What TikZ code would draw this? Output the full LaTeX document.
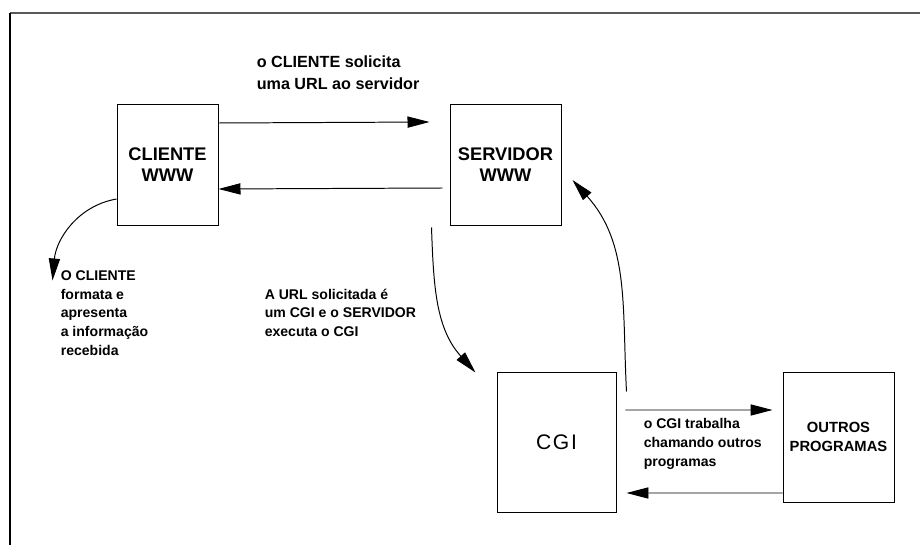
\documentclass[tikz,border=0pt]{standalone}
\usepackage{fontspec}
\setmainfont{Liberation Sans}
\usetikzlibrary{arrows.meta}

\begin{document}
\begin{tikzpicture}
%define
\tikzstyle{box_s} = [rectangle, minimum width=2.525cm, minimum height=3.025cm, align=center, draw=black, line width=0.7pt, inner sep=0pt, font=\fontsize{13}{15}\selectfont\bfseries]
\tikzstyle{box_m} = [rectangle, minimum width=2.775cm, minimum height=3.025cm, align=center, draw=black, line width=0.7pt, inner sep=0pt, font=\fontsize{13}{15}\selectfont\bfseries]
\tikzstyle{box_l} = [rectangle, minimum width=2.975cm, minimum height=3.5cm, align=center, draw=black, line width=0.7pt, inner sep=0pt, font=\fontsize{15}{18}\selectfont\addfontfeature{LetterSpace=8}]
\tikzstyle{box_p} = [rectangle, minimum width=2.775cm, minimum height=3.25cm, align=center, draw=black, line width=0.7pt, inner sep=0pt, font=\fontsize{10.5}{13.5}\selectfont\bfseries]
\tikzstyle{text_top} = [align=left, anchor=north west, inner sep=0pt, font=\fontsize{11.5}{15.6}\selectfont\bfseries]
\tikzstyle{text_note} = [align=left, anchor=north west, inner sep=0pt, font=\fontsize{10}{13.3}\selectfont\bfseries]
\tikzstyle{arrow} = [->, >={Triangle[length=5.5mm, width=2.8mm]}, line width=0.7pt]

\useasboundingbox (-4.1875,-9.5125) rectangle (18.8125,4.1125);
%frame
\draw[black!65, line width=1.2pt](-3.9375,3.7875)--(18.8125,3.7875);
\draw[black, line width=1.2pt](-3.9375,3.7875)--(-3.9375,-9.5125);

\node[box_s](state_Cliente){CLIENTE\\WWW};
\node[box_m, right of = state_Cliente, xshift = 7.45cm](state_Servidor){SERVIDOR\\WWW};
\node[box_l, below of = state_Servidor, xshift = 1.275cm, yshift = -5.9375cm](state_CGI){CGI};
\node[box_p, right of = state_CGI, xshift = 6.05cm, yshift = 0.125cm](state_Outros){OUTROS\\PROGRAMAS};
%text
\node[text_top](text_Pedido) at ([xshift = 0.95cm, yshift = 1.2cm]state_Cliente.north east){o CLIENTE solicita\\uma URL ao servidor};
\node[text_note](text_Cliente) at ([xshift = -1.4cm, yshift = -1.125cm]state_Cliente.south west){O CLIENTE\\formata e\\apresenta\\a informação\\recebida};
\node[text_note](text_URL) at ([xshift = 1.15cm, yshift = -1.575cm]state_Cliente.south east){A URL solicitada é\\um CGI e o SERVIDOR\\executa o CGI};
\node[text_note](text_CGI) at ([xshift = 0.675cm, yshift = -1.175cm]state_CGI.north east){o CGI trabalha\\chamando outros\\programas};
%line
\draw[arrow]([yshift = 1.0375cm]state_Cliente.east)--([xshift = -0.5cm, yshift = 1.0625cm]state_Servidor.west); %Cliente->Servidor
\draw[arrow]([xshift = -0.175cm, yshift = -0.5875cm]state_Servidor.west)--([yshift = -0.6125cm]state_Cliente.east); %Servidor->Cliente
\draw[arrow]([yshift = -0.8625cm]state_Cliente.west) to[out = 190, in = 85] ([xshift = -0.2cm, yshift = -0.25cm]text_Cliente.north west); %Cliente->texto
\draw[arrow]([xshift = -0.45cm, yshift = -0.05cm]state_Servidor.south west) to[out = -88, in = 132] ([xshift = -0.525cm, yshift = -0.025cm]state_CGI.north west); %Servidor->CGI
\draw[arrow]([xshift = 0.25cm, yshift = -0.5cm]state_CGI.north east) to[out = 93, in = -48] ([xshift = 0.275cm, yshift = -0.3875cm]state_Servidor.east); %CGI->Servidor
\draw[arrow]([xshift = 0.225cm, yshift = 0.8cm]state_CGI.east)--([xshift = -0.25cm, yshift = 0.675cm]state_Outros.west); %CGI->Outros
\draw[arrow]([yshift = -1.4cm]state_Outros.west)--([xshift = 0.25cm, yshift = -1.275cm]state_CGI.east); %Outros->CGI

\end{tikzpicture}
\end{document}
